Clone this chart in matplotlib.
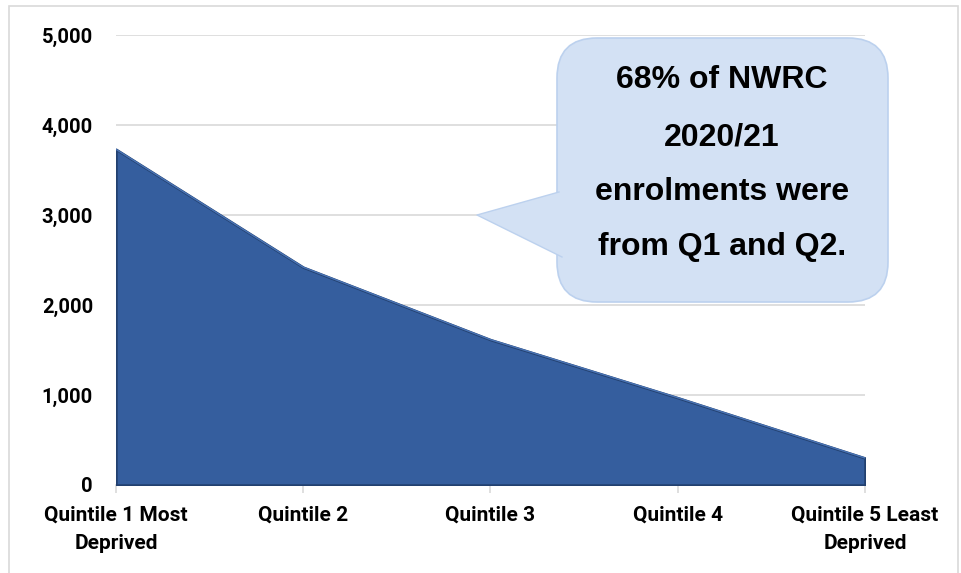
import matplotlib
matplotlib.use("Agg")
import matplotlib.pyplot as plt
from matplotlib.patches import FancyBboxPatch, Polygon, Rectangle
from matplotlib.lines import Line2D
from matplotlib.transforms import Affine2D
from matplotlib.ticker import FuncFormatter

plt.rcParams["font.family"] = ["Roboto", "DejaVu Sans"]
plt.rcParams["font.weight"] = "bold"

categories = ["Quintile 1 Most\nDeprived", "Quintile 2", "Quintile 3", "Quintile 4", "Quintile 5 Least\nDeprived"]
enrolments = [3730, 2420, 1615, 970, 300]
y_ticks = [0, 1000, 2000, 3000, 4000, 5000]
callout_lines = ["68% of NWRC", "2020/21", "enrolments were", "from Q1 and Q2."]

W, H = 962, 573
fig = plt.figure(figsize=(W / 100, H / 100), dpi=100)
fig.patch.set_facecolor("white")

pix = Affine2D().scale(1 / W, 1 / H) + fig.transFigure

def Y(py):
    return H - py

fig.patches.append(Rectangle((9, Y(620)), 949, 614, transform=pix, fill=False,
                             edgecolor="#D9D9D9", linewidth=1.2))

ax = fig.add_axes([116 / W, 1 - 485 / H, (865 - 116) / W, (485 - 35) / H])
x = list(range(len(categories)))
ax.fill_between(x, enrolments, 0, facecolor="#355E9E", edgecolor="#22406F",
                linewidth=1.8, zorder=3)
ax.plot(x, enrolments, color="#4A74B5", linewidth=1.0, zorder=4)

ax.set_xlim(0, len(categories) - 1)
ax.set_ylim(0, 5000)
ax.set_yticks(y_ticks)
ax.yaxis.set_major_formatter(FuncFormatter(lambda v, p: f"{int(v):,}"))
ax.set_xticks(x)
ax.set_xticklabels(categories, linespacing=1.6, fontsize=15, fontweight="bold")
ax.grid(axis="y", color="#D9D9D9", linewidth=1.2, zorder=0)
ax.set_axisbelow(True)
for s in ["top", "right", "left"]:
    ax.spines[s].set_visible(False)
ax.spines["bottom"].set_color("#D9D9D9")
ax.spines["bottom"].set_linewidth(1.2)
ax.tick_params(axis="y", length=0, pad=16.5, labelsize=14.5, labelcolor="black")
ax.tick_params(axis="x", length=6, color="#D9D9D9", width=1.2, pad=9, labelcolor="black")
ax.patch.set_visible(False)

box_l, box_r, box_t, box_b = 557, 888, 38, 302
fill = "#D3E1F4"
edge = "#BCD1EE"
box = FancyBboxPatch((box_l, Y(box_b)), box_r - box_l, box_b - box_t,
                     boxstyle="round,pad=0,rounding_size=40",
                     transform=pix, facecolor=fill, edgecolor=edge,
                     linewidth=1.2, zorder=10)
fig.patches.append(box)
tail_pts = [(559, Y(192)), (477, Y(215)), (562, Y(257))]
fig.patches.append(Polygon(tail_pts, closed=True, transform=pix, facecolor=fill,
                           edgecolor="none", zorder=11))
fig.lines.append(Line2D([p[0] for p in tail_pts], [p[1] for p in tail_pts],
                        transform=pix, color=edge, linewidth=1.0, zorder=12))

line_y = [80, 137, 192, 247]
for t, py in zip(callout_lines, line_y):
    fig.text(722, Y(py), t, transform=pix, ha="center", va="center",
             fontfamily="Liberation Sans", fontweight="bold", fontsize=23,
             color="black", zorder=13)

fig.savefig("out.png", dpi=100)
